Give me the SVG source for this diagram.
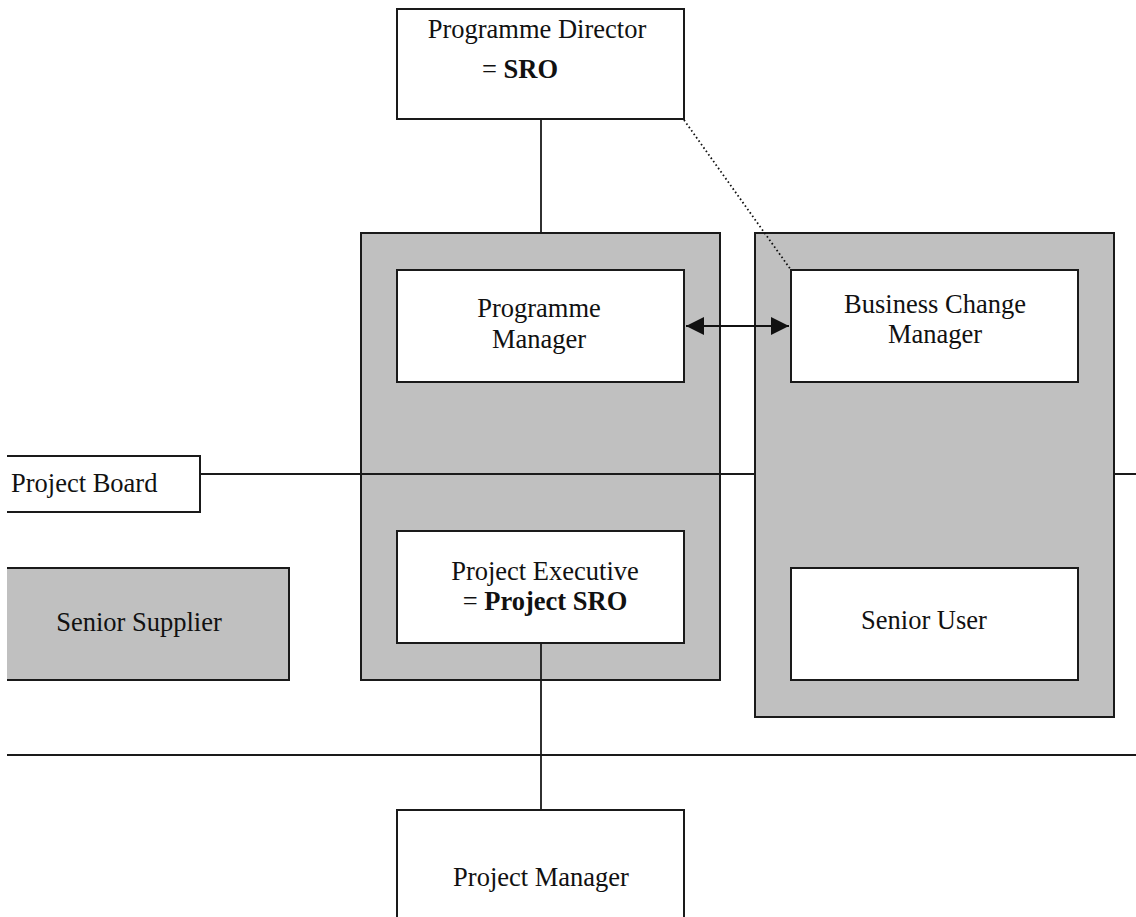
<svg xmlns="http://www.w3.org/2000/svg" width="1136" height="917" viewBox="0 0 1136 917">
  <style>
    .box { fill: #ffffff; stroke: #1a1a1a; stroke-width: 2; }
    .grey { fill: #c0c0c0; stroke: #1a1a1a; stroke-width: 2; }
    .open { fill: none; stroke: #1a1a1a; stroke-width: 2; }
    .line { fill: none; stroke: #1a1a1a; stroke-width: 1.8; }
    .arrow { fill: none; stroke: #111111; stroke-width: 2.2; }
    .dots { fill: none; stroke: #111111; stroke-width: 1.8; stroke-dasharray: 1.6 2.6; }
    text { font-family: "Liberation Serif", "Times New Roman", serif; font-size: 26.5px; fill: #111111; }
    .mid { text-anchor: middle; }
    .b { font-weight: bold; }
  </style>
  <defs>
    <marker id="head" viewBox="0 0 18 18" refX="18" refY="9" markerWidth="18" markerHeight="18" markerUnits="userSpaceOnUse" orient="auto-start-reverse">
      <path d="M0,0 L18,9 L0,18 Z" fill="#111111"/>
    </marker>
  </defs>

  <!-- Programme Director -->
  <g id="programme-director">
    <rect class="box" x="397" y="9" width="287" height="110"/>
    <text class="mid" x="537" y="38">Programme Director</text>
    <text class="mid" x="520" y="78">= <tspan class="b">SRO</tspan></text>
  </g>

  <!-- Left shaded group: programme manager / project executive -->
  <g id="programme-group">
    <rect class="grey" x="361" y="233" width="359" height="447"/>
  </g>

  <!-- Senior Supplier -->
  <g id="senior-supplier">
    <rect x="7" y="568" width="282" height="112" fill="#c0c0c0"/>
    <polyline class="open" points="7,568 289,568 289,680 7,680"/>
    <text class="mid" x="139" y="631">Senior Supplier</text>
  </g>

  <!-- Project Board -->
  <g id="project-board">
    <polyline class="open" points="7,456 200,456 200,512 7,512"/>
    <text x="11" y="492">Project Board</text>
  </g>

  <!-- Board line and stage line -->
  <g id="board-lines">
    <line class="line" x1="200" y1="474" x2="1136" y2="474"/>
    <line class="line" x1="7" y1="755" x2="1136" y2="755"/>
  </g>

  <!-- Right shaded group: business change manager / senior user -->
  <g id="business-group">
    <rect class="grey" x="755" y="233" width="359" height="484"/>
  </g>

  <g id="programme-manager">
    <rect class="box" x="397" y="270" width="287" height="112"/>
    <text class="mid" x="539" y="317">Programme</text>
    <text class="mid" x="539" y="348">Manager</text>
  </g>

  <g id="project-executive">
    <rect class="box" x="397" y="531" width="287" height="112"/>
    <text class="mid" x="545" y="580">Project Executive</text>
    <text class="mid" x="545" y="610">= <tspan class="b">Project SRO</tspan></text>
  </g>

  <g id="business-change-manager">
    <rect class="box" x="791" y="270" width="287" height="112"/>
    <text class="mid" x="935" y="313">Business Change</text>
    <text class="mid" x="935" y="343">Manager</text>
  </g>

  <g id="senior-user">
    <rect class="box" x="791" y="568" width="287" height="112"/>
    <text class="mid" x="924" y="629">Senior User</text>
  </g>

  <g id="project-manager">
    <polyline class="open" points="397,917 397,810 684,810 684,917"/>
    <text class="mid" x="541" y="886">Project Manager</text>
  </g>

  <!-- Connectors -->
  <g id="connectors">
    <line class="line" x1="541" y1="119" x2="541" y2="233"/>
    <line class="dots" x1="684" y1="120" x2="791" y2="270"/>
    <line class="arrow" x1="686" y1="326" x2="789" y2="326" marker-start="url(#head)" marker-end="url(#head)"/>
    <line class="line" x1="541" y1="643" x2="541" y2="810"/>
  </g>
</svg>
